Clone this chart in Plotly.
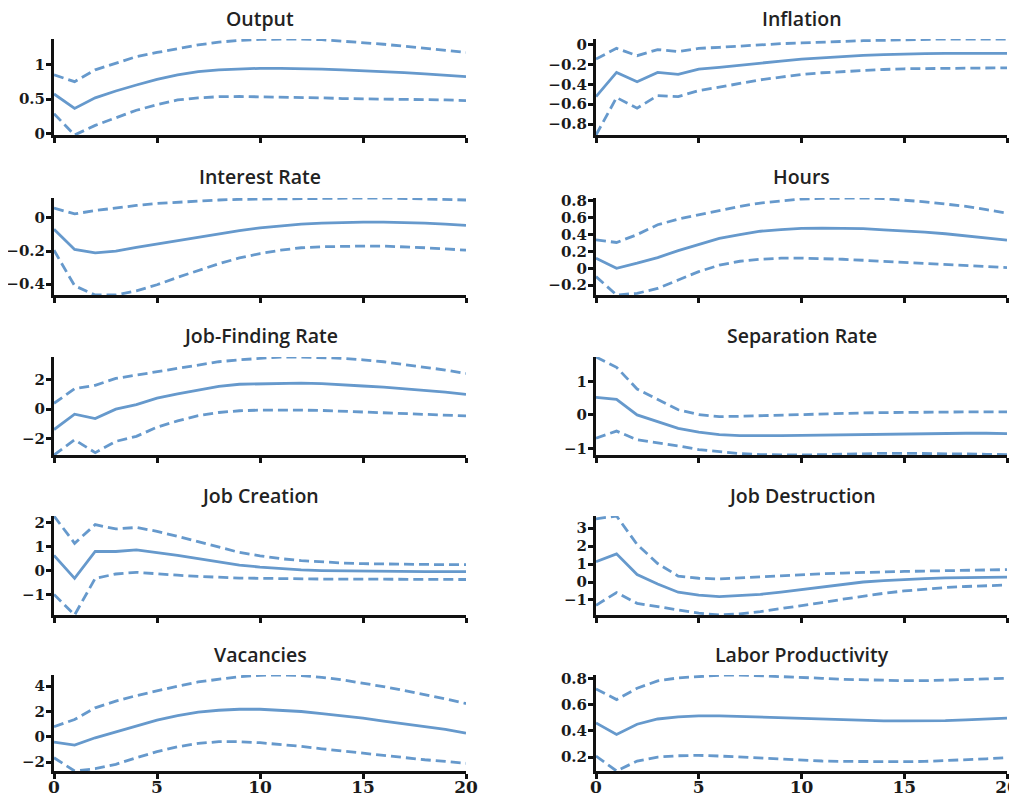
import plotly.graph_objects as go

horizon = list(range(21))

titles = ["Output", "Inflation", "Interest Rate", "Hours", "Job-Finding Rate",
          "Separation Rate", "Job Creation", "Job Destruction", "Vacancies",
          "Labor Productivity"]

output_mid = [0.576, 0.366, 0.52, 0.62, 0.707, 0.79, 0.854, 0.90, 0.927, 0.94, 0.95,
              0.95, 0.946, 0.937, 0.927, 0.917, 0.90, 0.888, 0.868, 0.85, 0.83]
output_up = [0.854, 0.756, 0.927, 1.02, 1.12, 1.18, 1.24, 1.29, 1.33, 1.356, 1.37,
             1.376, 1.376, 1.366, 1.346, 1.327, 1.30, 1.27, 1.24, 1.21, 1.18]
output_lo = [0.29, -0.02, 0.12, 0.23, 0.34, 0.42, 0.49, 0.52, 0.537, 0.54, 0.537,
             0.53, 0.527, 0.52, 0.51, 0.507, 0.50, 0.50, 0.49, 0.49, 0.48]

infl_mid = [-0.523, -0.28, -0.374, -0.28, -0.30, -0.246, -0.229, -0.206, -0.182, -0.165,
            -0.145, -0.132, -0.118, -0.108, -0.101, -0.094, -0.091, -0.088, -0.088, -0.088, -0.088]
infl_up = [-0.145, -0.037, -0.111, -0.05, -0.07, -0.037, -0.027, -0.013, 0.0, 0.01,
           0.017, 0.027, 0.034, 0.04, 0.044, 0.05, 0.054, 0.057, 0.057, 0.057, 0.057]
infl_lo = [-0.91, -0.533, -0.64, -0.513, -0.523, -0.462, -0.428, -0.388, -0.354, -0.327,
           -0.30, -0.283, -0.27, -0.256, -0.25, -0.243, -0.24, -0.236, -0.233, -0.233, -0.233]

rate_mid = [-0.068, -0.19, -0.211, -0.2, -0.178, -0.158, -0.137, -0.115, -0.094, -0.076,
            -0.06, -0.047, -0.037, -0.031, -0.027, -0.025, -0.025, -0.027, -0.031, -0.037, -0.045]
rate_up = [0.06, 0.025, 0.045, 0.062, 0.076, 0.088, 0.096, 0.103, 0.109, 0.113, 0.115,
           0.117, 0.119, 0.121, 0.121, 0.121, 0.121, 0.119, 0.117, 0.113, 0.109]
rate_lo = [-0.195, -0.41, -0.466, -0.466, -0.441, -0.404, -0.359, -0.318, -0.277, -0.242,
           -0.215, -0.195, -0.18, -0.174, -0.17, -0.17, -0.17, -0.174, -0.18, -0.187, -0.195]

hours_mid = [0.12, 0.0, 0.06, 0.127, 0.21, 0.286, 0.354, 0.40, 0.44, 0.46, 0.473,
             0.477, 0.477, 0.47, 0.457, 0.445, 0.43, 0.41, 0.386, 0.36, 0.334]
hours_up = [0.338, 0.306, 0.40, 0.517, 0.584, 0.636, 0.688, 0.736, 0.775, 0.803, 0.823,
            0.83, 0.835, 0.835, 0.827, 0.81, 0.79, 0.763, 0.736, 0.696, 0.656]
hours_lo = [-0.1, -0.318, -0.298, -0.24, -0.14, -0.04, 0.036, 0.083, 0.107, 0.12, 0.12,
            0.115, 0.107, 0.095, 0.083, 0.07, 0.056, 0.044, 0.032, 0.02, 0.008]

jfr_mid = [-1.38, -0.34, -0.64, 0.0, 0.3, 0.74, 1.03, 1.31, 1.54, 1.68, 1.72,
           1.75, 1.75, 1.72, 1.66, 1.56, 1.49, 1.38, 1.26, 1.15, 0.99]
jfr_up = [0.39, 1.38, 1.61, 2.07, 2.3, 2.53, 2.76, 2.99, 3.2, 3.33, 3.45,
          3.52, 3.52, 3.49, 3.43, 3.33, 3.2, 3.01, 2.83, 2.64, 2.41]
jfr_lo = [-3.1, -2.07, -2.94, -2.18, -1.84, -1.22, -0.8, -0.44, -0.23, -0.11, -0.07,
          -0.05, -0.07, -0.09, -0.14, -0.18, -0.23, -0.28, -0.34, -0.39, -0.46]

sep_mid = [0.52, 0.46, 0.0, -0.195, -0.4, -0.51, -0.585, -0.615, -0.625, -0.615, -0.605,
           -0.595, -0.585, -0.574, -0.564, -0.554, -0.554, -0.544, -0.544, -0.544, -0.554]
sep_up = [1.72, 1.415, 0.77, 0.46, 0.154, 0.01, -0.05, -0.04, -0.02, 0.0, 0.02,
          0.04, 0.05, 0.06, 0.07, 0.08, 0.08, 0.09, 0.09, 0.09, 0.09]
sep_lo = [-0.69, -0.48, -0.74, -0.82, -0.92, -1.03, -1.1, -1.15, -1.18, -1.19, -1.19,
          -1.18, -1.16, -1.15, -1.14, -1.14, -1.14, -1.15, -1.16, -1.17, -1.18]

jc_mid = [0.65, -0.31, 0.81, 0.81, 0.88, 0.78, 0.65, 0.51, 0.37, 0.24, 0.16,
          0.085, 0.04, 0.014, 0.0, -0.014, -0.014, -0.03, -0.03, -0.03, -0.03]
jc_up = [2.29, 1.15, 1.93, 1.75, 1.81, 1.65, 1.44, 1.21, 0.97, 0.77, 0.63,
         0.51, 0.43, 0.37, 0.33, 0.3, 0.28, 0.27, 0.27, 0.26, 0.26]
jc_lo = [-0.98, -1.84, -0.31, -0.13, -0.06, -0.13, -0.18, -0.23, -0.27, -0.3, -0.31,
         -0.33, -0.33, -0.34, -0.34, -0.34, -0.34, -0.36, -0.36, -0.36, -0.36]

jd_mid = [1.13, 1.57, 0.42, -0.11, -0.57, -0.73, -0.82, -0.77, -0.69, -0.57, -0.42,
          -0.27, -0.11, 0.0, 0.08, 0.15, 0.19, 0.23, 0.25, 0.25, 0.27]
jd_up = [3.52, 3.68, 2.09, 1.03, 0.33, 0.21, 0.17, 0.23, 0.31, 0.36, 0.42,
         0.46, 0.5, 0.54, 0.56, 0.59, 0.61, 0.63, 0.65, 0.67, 0.69]
jd_lo = [-1.3, -0.59, -1.19, -1.36, -1.55, -1.74, -1.84, -1.78, -1.65, -1.49, -1.34,
         -1.15, -0.96, -0.79, -0.63, -0.5, -0.4, -0.31, -0.25, -0.21, -0.17]

vac_mid = [-0.42, -0.66, -0.08, 0.39, 0.89, 1.32, 1.68, 1.95, 2.1, 2.18, 2.18,
           2.1, 2.0, 1.84, 1.66, 1.47, 1.24, 1.03, 0.79, 0.58, 0.29]
vac_up = [0.79, 1.37, 2.29, 2.82, 3.26, 3.66, 4.0, 4.34, 4.58, 4.76, 4.87,
          4.89, 4.84, 4.71, 4.5, 4.26, 3.97, 3.66, 3.34, 3.0, 2.63]
vac_lo = [-1.66, -2.71, -2.53, -2.18, -1.66, -1.18, -0.79, -0.53, -0.39, -0.39, -0.47,
          -0.6, -0.76, -0.95, -1.13, -1.32, -1.47, -1.66, -1.82, -1.95, -2.1]

lp_mid = [0.46, 0.372, 0.45, 0.49, 0.506, 0.514, 0.514, 0.509, 0.504, 0.499, 0.491,
          0.486, 0.481, 0.478, 0.476, 0.476, 0.476, 0.478, 0.484, 0.489, 0.496]
lp_up = [0.719, 0.638, 0.724, 0.78, 0.803, 0.815, 0.823, 0.825, 0.82, 0.815, 0.808,
         0.8, 0.792, 0.787, 0.785, 0.782, 0.782, 0.785, 0.79, 0.795, 0.8]
lp_lo = [0.208, 0.094, 0.17, 0.2, 0.21, 0.213, 0.208, 0.2, 0.19, 0.182, 0.175,
         0.17, 0.167, 0.165, 0.165, 0.165, 0.167, 0.172, 0.18, 0.187, 0.195]

# y tick values for each panel
y_tickvals = [
    [0, 0.5, 1],
    [-0.8, -0.6, -0.4, -0.2, 0],
    [-0.4, -0.2, 0],
    [-0.2, 0, 0.2, 0.4, 0.6, 0.8],
    [-2, 0, 2],
    [-1, 0, 1],
    [-1, 0, 1, 2],
    [-1, 0, 1, 2, 3],
    [-2, 0, 2, 4],
    [0.2, 0.4, 0.6, 0.8],
]
x_ticks = [0, 5, 10, 15, 20]

series = [
    (output_mid, output_up, output_lo),
    (infl_mid, infl_up, infl_lo),
    (rate_mid, rate_up, rate_lo),
    (hours_mid, hours_up, hours_lo),
    (jfr_mid, jfr_up, jfr_lo),
    (sep_mid, sep_up, sep_lo),
    (jc_mid, jc_up, jc_lo),
    (jd_mid, jd_up, jd_lo),
    (vac_mid, vac_up, vac_lo),
    (lp_mid, lp_up, lp_lo),
]


def tick_text(v):
    s = f"{abs(v):g}"
    return ("\u2212" + s) if v < 0 else s


# page body has an 8px default margin: shrink figure and shift positions
OFF = 8
W, H = 1017 - OFF, 797 - OFF
col_px = [(54, 466), (596, 1007)]
row_px = [(39, 135), (198, 295), (357, 455), (516, 615), (675, 771)]
COLOR = "#6699cc"
YFONT = dict(family="DejaVu Serif", size=15, color="#1a1a1a", weight="bold")
XFONT = dict(family="DejaVu Serif", size=17, color="#1a1a1a", weight="bold")


def fx(px):
    return (px - OFF) / W


def fy(py):
    return 1 - (py - OFF) / H


fig = go.Figure()
layout = dict(
    width=W, height=H, margin=dict(l=0, r=0, t=0, b=0),
    paper_bgcolor="white", plot_bgcolor="white", showlegend=False,
    annotations=[],
)

for i, (title, (mid, up, lo)) in enumerate(zip(titles, series)):
    r, c = divmod(i, 2)
    n = i + 1
    xa = "x" if n == 1 else f"x{n}"
    ya = "y" if n == 1 else f"y{n}"
    for vals, dash in ((up, "10px,5px"), (lo, "10px,5px"), (mid, "solid")):
        fig.add_trace(go.Scatter(
            x=horizon, y=vals, mode="lines", xaxis=xa, yaxis=ya,
            line=dict(color=COLOR, width=2.8, dash=dash), hoverinfo="skip"))
    x0, x1 = col_px[c]
    top, bot = row_px[r]
    ymin = min(lo + mid + up)
    ymax = max(lo + mid + up)
    xkey = "xaxis" if n == 1 else f"xaxis{n}"
    ykey = "yaxis" if n == 1 else f"yaxis{n}"
    layout[xkey] = dict(
        domain=[fx(x0), fx(x1)], anchor=ya, range=[0, 20],
        tickmode="array", tickvals=x_ticks, showticklabels=(r == 4),
        ticks="outside", ticklen=5, tickwidth=2.5, tickcolor="#111",
        ticklabelstandoff=-6, ticklabeloverflow="allow",
        showline=True, linecolor="#111", linewidth=3,
        showgrid=False, zeroline=False, tickfont=XFONT, automargin=False,
    )
    tv = y_tickvals[i]
    layout[ykey] = dict(
        domain=[fy(bot), fy(top)], anchor=xa, range=[ymin, ymax],
        tickmode="array", tickvals=tv, ticktext=[tick_text(v) for v in tv],
        ticks="outside", ticklen=5, tickwidth=2.5, tickcolor="#111",
        ticklabelstandoff=-2, ticklabeloverflow="allow",
        showline=True, linecolor="#111", linewidth=3,
        showgrid=False, zeroline=False, tickfont=YFONT, automargin=False,
    )
    layout["annotations"].append(dict(
        text=title, xref="paper", yref="paper",
        x=fx((x0 + x1) / 2), y=fy(top - 21),
        xanchor="center", yanchor="middle", showarrow=False,
        font=dict(family="Open Sans", size=19.5, color="#222", weight=600),
    ))

fig.update_layout(**layout)
fig.write_html("out.html")
